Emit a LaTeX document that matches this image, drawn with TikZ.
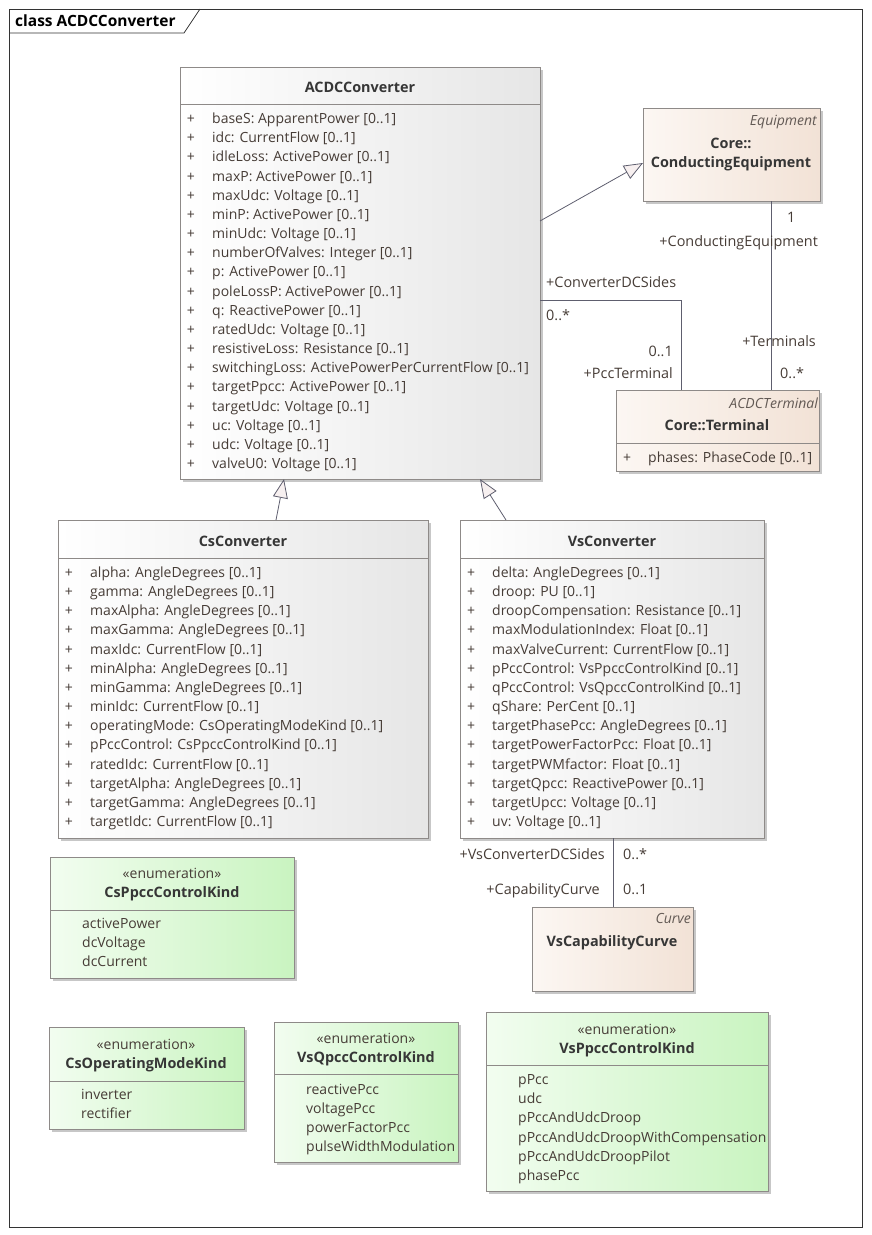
\documentclass[tikz,border=0pt]{standalone}
\usepackage{fontspec}
\setmainfont{Open Sans}
\usetikzlibrary{shadows,arrows.meta}
\definecolor{txt}{HTML}{463C36}
\definecolor{ttl}{HTML}{363636}
\definecolor{bord}{HTML}{8E8A88}
\definecolor{conn}{HTML}{5E5E6E}
\definecolor{beigeL}{HTML}{FCF7F3}
\definecolor{beigeR}{HTML}{F2E2D6}
\definecolor{greenL}{HTML}{F2FDF0}
\definecolor{greenR}{HTML}{C9F4C0}
\definecolor{grayR}{HTML}{E6E6E6}
\definecolor{trifill}{HTML}{F7F0F0}
\newcommand{\attrfont}{\fontsize{14}{16}\selectfont}
\newcommand{\lblfont}{\fontsize{14.4}{16}\selectfont}
\newcommand{\ttlfont}{\fontsize{14.4}{16}\selectfont\bfseries}
\tikzset{
  box/.style={draw=bord, line width=0.8pt, anchor=north west, inner sep=0pt, outer sep=0pt,
    drop shadow={shadow xshift=3pt, shadow yshift=-3pt, fill=black, opacity=0.22}},
  classbox/.style={box, left color=white, right color=grayR},
  beigebox/.style={box, left color=beigeL, right color=beigeR},
  enumbox/.style={box, left color=greenL, right color=greenR},
  divider/.style={draw=bord, line width=0.8pt},
  fixh/.style={text height=13pt, text depth=2pt},
  attr/.style={anchor=west, inner sep=0pt, font=\attrfont, text=txt, fixh},
  plus/.style={anchor=center, inner sep=0pt, font=\attrfont, text=txt, fixh},
  ttlnode/.style={anchor=center, inner sep=0pt, font=\ttlfont, text=ttl, fixh},
  stereo/.style={anchor=east, inner sep=0pt, font=\attrfont\itshape, text=txt!85, fixh},
  enumst/.style={anchor=center, inner sep=0pt, font=\attrfont, text=txt, fixh},
  lbl/.style={inner sep=0pt, font=\lblfont, text=txt, fixh},
  assoc/.style={draw=conn, line width=0.8pt},
  gen/.style={draw=conn, line width=0.8pt, -{Triangle[open, length=19pt, width=15pt, fill=trifill]}},
}
\begin{document}
\begin{tikzpicture}[x=1pt, y=-1pt]
\useasboundingbox (0,0) rectangle (871,1235);
% frame
\draw[black!80, line width=0.8pt] (9,9) rectangle (862,1227);
\draw[black!80, line width=0.8pt] (9,33) -- (184,33) -- (200,9);
\node[anchor=west, inner sep=0pt, font=\fontsize{15.5}{17}\selectfont\bfseries, text=black] (frametitle) at (15,21) {class ACDCConverter};

% ACDCConverter
\node[classbox, minimum width=360pt, minimum height=412pt] (acdc) at (180,67) {};
\draw[divider] (180,104) -- (540,104);
\node[ttlnode] (acdcT) at (360,87) {ACDCConverter};
\foreach \t [count=\i from 0] in {{baseS: ApparentPower [0..1]},{idc: CurrentFlow [0..1]},{idleLoss: ActivePower [0..1]},{maxP: ActivePower [0..1]},{maxUdc: Voltage [0..1]},{minP: ActivePower [0..1]},{minUdc: Voltage [0..1]},{numberOfValves: Integer [0..1]},{p: ActivePower [0..1]},{poleLossP: ActivePower [0..1]},{q: ReactivePower [0..1]},{ratedUdc: Voltage [0..1]},{resistiveLoss: Resistance [0..1]},{switchingLoss: ActivePowerPerCurrentFlow [0..1]},{targetPpcc: ActivePower [0..1]},{targetUdc: Voltage [0..1]},{uc: Voltage [0..1]},{udc: Voltage [0..1]},{valveU0: Voltage [0..1]}}{
  \node[plus] (acdcP\i) at (191,118+19.17*\i) {+};
  \node[attr] (acdcA\i) at (212,118+19.17*\i) {\t};
}

% Core::ConductingEquipment
\node[beigebox, minimum width=177pt, minimum height=93pt] (ce) at (643,108) {};
\node[stereo] (ceS) at (817,120) {Equipment};
\node[ttlnode] (ceT1) at (731,143) {Core::};
\node[ttlnode] (ceT2) at (731,162) {ConductingEquipment};

% Core::Terminal
\node[beigebox, minimum width=203pt, minimum height=81pt] (term) at (616,390) {};
\node[stereo] (termS) at (818,403) {ACDCTerminal};
\node[ttlnode] (termT) at (717,425) {Core::Terminal};
\draw[divider] (616,443) -- (819,443);
\node[plus] (termP0) at (627,457) {+};
\node[attr] (termA0) at (648,457) {phases: PhaseCode [0..1]};

% CsConverter
\node[classbox, minimum width=370pt, minimum height=318pt] (cs) at (58,520) {};
\node[ttlnode] (csT) at (243,541) {CsConverter};
\draw[divider] (58,558) -- (428,558);
\foreach \t [count=\i from 0] in {{alpha: AngleDegrees [0..1]},{gamma: AngleDegrees [0..1]},{maxAlpha: AngleDegrees [0..1]},{maxGamma: AngleDegrees [0..1]},{maxIdc: CurrentFlow [0..1]},{minAlpha: AngleDegrees [0..1]},{minGamma: AngleDegrees [0..1]},{minIdc: CurrentFlow [0..1]},{operatingMode: CsOperatingModeKind [0..1]},{pPccControl: CsPpccControlKind [0..1]},{ratedIdc: CurrentFlow [0..1]},{targetAlpha: AngleDegrees [0..1]},{targetGamma: AngleDegrees [0..1]},{targetIdc: CurrentFlow [0..1]}}{
  \node[plus] (csP\i) at (69,572+19.15*\i) {+};
  \node[attr] (csA\i) at (90,572+19.15*\i) {\t};
}

% VsConverter
\node[classbox, minimum width=304pt, minimum height=318pt] (vs) at (460,520) {};
\node[ttlnode] (vsT) at (612,541) {VsConverter};
\draw[divider] (460,558) -- (764,558);
\foreach \t [count=\i from 0] in {{delta: AngleDegrees [0..1]},{droop: PU [0..1]},{droopCompensation: Resistance [0..1]},{maxModulationIndex: Float [0..1]},{maxValveCurrent: CurrentFlow [0..1]},{pPccControl: VsPpccControlKind [0..1]},{qPccControl: VsQpccControlKind [0..1]},{qShare: PerCent [0..1]},{targetPhasePcc: AngleDegrees [0..1]},{targetPowerFactorPcc: Float [0..1]},{targetPWMfactor: Float [0..1]},{targetQpcc: ReactivePower [0..1]},{targetUpcc: Voltage [0..1]},{uv: Voltage [0..1]}}{
  \node[plus] (vsP\i) at (471,572+19.15*\i) {+};
  \node[attr] (vsA\i) at (492,572+19.15*\i) {\t};
}

% VsCapabilityCurve
\node[beigebox, minimum width=161pt, minimum height=84pt] (vcc) at (532,907) {};
\node[stereo] (vccS) at (691,918) {Curve};
\node[ttlnode] (vccT) at (612,941) {VsCapabilityCurve};

% CsPpccControlKind
\node[enumbox, minimum width=244pt, minimum height=121pt] (e1) at (50,857) {};
\node[enumst] (e1S) at (172,873) {«enumeration»};
\node[ttlnode] (e1T) at (172,892) {CsPpccControlKind};
\draw[divider] (50,910) -- (294,910);
\foreach \t [count=\i from 0] in {activePower,dcVoltage,dcCurrent}{
  \node[attr] (e1A\i) at (82,923+19*\i) {\t};
}

% CsOperatingModeKind
\node[enumbox, minimum width=195pt, minimum height=102pt] (e2) at (49,1027) {};
\node[enumst] (e2S) at (146,1044) {«enumeration»};
\node[ttlnode] (e2T) at (146,1063) {CsOperatingModeKind};
\draw[divider] (49,1081) -- (244,1081);
\foreach \t [count=\i from 0] in {inverter,rectifier}{
  \node[attr] (e2A\i) at (81,1094+18.5*\i) {\t};
}

% VsQpccControlKind
\node[enumbox, minimum width=184pt, minimum height=140pt] (e3) at (274,1022) {};
\node[enumst] (e3S) at (366,1038) {«enumeration»};
\node[ttlnode] (e3T) at (366,1057) {VsQpccControlKind};
\draw[divider] (274,1074) -- (458,1074);
\foreach \t [count=\i from 0] in {reactivePcc,voltagePcc,powerFactorPcc,pulseWidthModulation}{
  \node[attr] (e3A\i) at (306,1089+19*\i) {\t};
}

% VsPpccControlKind
\node[enumbox, minimum width=282pt, minimum height=179pt] (e4) at (486,1012) {};
\node[enumst] (e4S) at (627,1029) {«enumeration»};
\node[ttlnode] (e4T) at (627,1048) {VsPpccControlKind};
\draw[divider] (486,1065) -- (768,1065);
\foreach \t [count=\i from 0] in {pPcc,udc,pPccAndUdcDroop,pPccAndUdcDroopWithCompensation,pPccAndUdcDroopPilot,phasePcc}{
  \node[attr] (e4A\i) at (518,1079+19.2*\i) {\t};
}

% --- connectors ---
% generalizations
\draw[gen] ([yshift=-154pt]acdc.north east) -- ([yshift=-55pt]ce.north west);
\draw[gen] ([xshift=218pt]cs.north west) -- ([xshift=104pt]acdc.south west);
\draw[gen] ([xshift=46pt]vs.north west) -- ([xshift=300pt]acdc.south west);

% ACDCConverter -- Terminal (PccTerminal)
\draw[assoc] ([yshift=-233pt]acdc.north east) -| ([xshift=65pt]term.north west);
\node[lbl, anchor=west] (l1) at (546,282) {+ConverterDCSides};
\node[lbl, anchor=west] (l2) at (546,315) {0..*};
\node[lbl, anchor=east] (l3) at (673,351) {0..1};
\node[lbl, anchor=east] (l4) at (673,373) {+PccTerminal};

% ConductingEquipment -- Terminal
\draw[assoc] ([xshift=128pt]ce.south west) -- ([xshift=155pt]term.north west);
\node[lbl, anchor=west] (l5) at (787,217) {1};
\node[lbl, anchor=east] (l6) at (818,241) {+ConductingEquipment};
\node[lbl, anchor=east] (l7) at (816,341) {+Terminals};
\node[lbl, anchor=west] (l8) at (780,373) {0..*};

% VsConverter -- VsCapabilityCurve
\draw[assoc] ([xshift=153pt]vs.south west) -- ([xshift=81pt]vcc.north west);
\node[lbl, anchor=east] (l9) at (605,854) {+VsConverterDCSides};
\node[lbl, anchor=west] (l10) at (623,854) {0..*};
\node[lbl, anchor=east] (l11) at (600,889) {+CapabilityCurve};
\node[lbl, anchor=west] (l12) at (623,889) {0..1};
\end{tikzpicture}
\end{document}
